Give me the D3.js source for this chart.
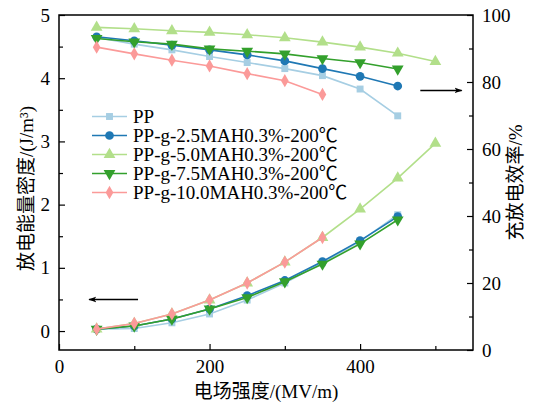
<!DOCTYPE html>
<html><head><meta charset="utf-8">
<script src="https://cdn.jsdelivr.net/npm/d3@7"></script>
<style>
body{margin:0;background:#fff;}
text{font-family:"Liberation Serif","Times New Roman","Noto Sans CJK SC",serif;fill:#000;}
</style></head><body>
<svg id="c" width="539" height="406"></svg>
<script>
const fields = [50,100,150,200,250,300,350,400,450,500];
const seriesNames = ["PP","PP-g-2.5MAH0.3%-200℃","PP-g-5.0MAH0.3%-200℃","PP-g-7.5MAH0.3%-200℃","PP-g-10.0MAH0.3%-200℃"];
const energyPP   = [0.03,0.04,0.13,0.27,0.49,0.76,1.08,1.42,1.84];
const energy25   = [0.03,0.08,0.19,0.35,0.56,0.80,1.10,1.43,1.81];
const energy50   = [0.03,0.12,0.27,0.49,0.76,1.09,1.48,1.93,2.42,2.97];
const energy75   = [0.03,0.08,0.19,0.35,0.53,0.78,1.06,1.38,1.76];
const energy100  = [0.03,0.12,0.27,0.49,0.76,1.09,1.48];
const effPP  = [93.3,91.3,89.6,87.6,85.8,84.0,81.9,77.9,69.9];
const eff25  = [93.5,92.3,91.0,89.6,88.1,86.3,84.0,81.7,78.8];
const eff50  = [96.3,95.9,95.3,94.8,94.1,93.2,91.9,90.4,88.6,86.1];
const eff75  = [93.0,92.0,91.3,89.9,89.2,88.4,87.0,85.8,83.9];
const eff100 = [90.4,88.4,86.5,84.8,82.5,80.4,76.3];
const xTicks = [0,200,400];
const yLeftTicks = [0,1,2,3,4,5];
const yRightTicks = [0,20,40,60,80,100];
const xTitle = "电场强度/(MV/m)";
const yLeftTitle = "放电能量密度/(J/m³)";
const yRightTitle = "充放电效率/%";

const colors = ["#a6cee3","#1f78b4","#b2df8a","#33a02c","#fb9a99"];
const symbols = [d3.symbolSquare, d3.symbolCircle, d3.symbolTriangle, "down", d3.symbolDiamond];
const energies = [energyPP,energy25,energy50,energy75,energy100];
const effs = [effPP,eff25,eff50,eff75,eff100];

const L=59,R=473,T=15,B=350;
const svg = d3.select("#c");
const x = d3.scaleLinear().domain([0,550]).range([L,R]);
const yL = d3.scaleLinear().domain([-0.3,5]).range([B,T]);
const yR = d3.scaleLinear().domain([0,100]).range([B,T]);

function sym(i, size){
  const s = symbols[i];
  if (s === "down") {
    const p = d3.symbol(d3.symbolTriangle, size)();
    return {path:p, rot:180};
  }
  const sz = s===d3.symbolDiamond ? size*0.85 : (s===d3.symbolSquare? size*0.8 : size);
  return {path:d3.symbol(s, sz)(), rot:0};
}

const fs = 19;
const gx = svg.append("g").attr("transform",`translate(0,${B})`)
  .call(d3.axisBottom(x).tickValues(xTicks).tickSizeInner(-6).tickSizeOuter(0).tickPadding(10));
const gxm = svg.append("g").attr("transform",`translate(0,${B})`)
  .call(d3.axisBottom(x).tickValues([100,300,500]).tickSizeInner(-4).tickSizeOuter(0).tickFormat(""));
const gl = svg.append("g").attr("transform",`translate(${L},0)`)
  .call(d3.axisLeft(yL).tickValues(yLeftTicks).tickSizeInner(-6).tickSizeOuter(0).tickPadding(9).tickFormat(d3.format("d")));
const glm = svg.append("g").attr("transform",`translate(${L},0)`)
  .call(d3.axisLeft(yL).tickValues([0.5,1.5,2.5,3.5,4.5]).tickSizeInner(-4).tickSizeOuter(0).tickFormat(""));
const gr = svg.append("g").attr("transform",`translate(${R},0)`)
  .call(d3.axisRight(yR).tickValues(yRightTicks).tickSizeInner(-6).tickSizeOuter(0).tickPadding(9));
const grm = svg.append("g").attr("transform",`translate(${R},0)`)
  .call(d3.axisRight(yR).tickValues([10,30,50,70,90]).tickSizeInner(-4).tickSizeOuter(0).tickFormat(""));
[gx,gxm,gl,glm,gr,grm].forEach(g=>{
  g.selectAll(".domain").remove();
  g.selectAll("line").attr("stroke","#000").attr("stroke-width",1.2);
  g.selectAll("text").attr("font-size",fs).attr("font-family",'"Liberation Serif",serif').attr("fill","#000");
});
svg.append("rect").attr("x",L).attr("y",T).attr("width",R-L).attr("height",B-T)
  .attr("fill","none").attr("stroke","#000").attr("stroke-width",1.5);

svg.append("text").attr("x",(L+R)/2).attr("y",398).attr("text-anchor","middle").attr("font-size",fs).text(xTitle);
svg.append("text").attr("transform",`translate(33,${(T+B)/2+6}) rotate(-90)`).attr("text-anchor","middle").attr("font-size",fs).text(yLeftTitle);
svg.append("text").attr("transform",`translate(522,${(T+B)/2}) rotate(-90)`).attr("text-anchor","middle").attr("font-size",fs).text(yRightTitle);

function drawSeries(vals, yScale, i){
  const pts = vals.map((v,k)=>[fields[k], v]);
  const line = d3.line().x(d=>x(d[0])).y(d=>yScale(d[1]));
  svg.append("path").datum(pts).attr("d",line).attr("fill","none").attr("stroke",colors[i]).attr("stroke-width",1.6);
  const s = sym(i, 60);
  svg.append("g").selectAll("path").data(pts).join("path")
    .attr("d",s.path).attr("fill",colors[i])
    .attr("transform",d=>`translate(${x(d[0])},${yScale(d[1])}) rotate(${s.rot})`);
}
for (let i=0;i<5;i++){ drawSeries(effs[i], yR, i); }
for (let i=0;i<5;i++){ drawSeries(energies[i], yL, i); }

const lg = svg.append("g");
seriesNames.forEach((n,i)=>{
  const yy = 116.5 + i*19;
  lg.append("line").attr("x1",92).attr("x2",127).attr("y1",yy).attr("y2",yy).attr("stroke",colors[i]).attr("stroke-width",1.6);
  const s = sym(i,60);
  lg.append("path").attr("d",s.path).attr("fill",colors[i]).attr("transform",`translate(109.5,${yy}) rotate(${s.rot})`);
  lg.append("text").attr("x",133).attr("y",yy+6.5).attr("font-size",19).text(n);
});

svg.append("defs").append("marker").attr("id","ah").attr("viewBox","0 0 10 10").attr("refX",9).attr("refY",5)
  .attr("markerWidth",8).attr("markerHeight",8).attr("markerUnits","userSpaceOnUse").attr("orient","auto")
  .append("path").attr("d","M0,1.5 L10,5 L0,8.5 L2.5,5 Z").attr("fill","#000");
svg.append("line").attr("x1",x(105)).attr("x2",x(40)).attr("y1",yL(0.5)).attr("y2",yL(0.5))
  .attr("stroke","#000").attr("stroke-width",1.5).attr("marker-end","url(#ah)");
svg.append("line").attr("x1",x(480)).attr("x2",x(535)).attr("y1",yR(77.5)).attr("y2",yR(77.5))
  .attr("stroke","#000").attr("stroke-width",1.5).attr("marker-end","url(#ah)");
</script></body></html>
